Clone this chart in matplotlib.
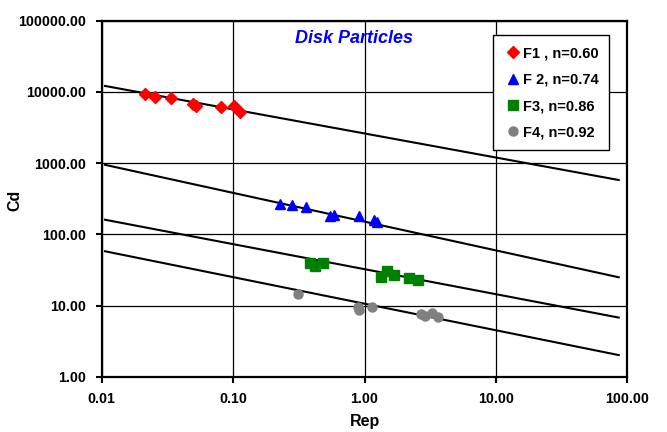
import numpy as np
import matplotlib
matplotlib.use('Agg')
import matplotlib.pyplot as plt
from matplotlib.ticker import FixedLocator, FormatStrFormatter, NullLocator

plt.rcParams['font.family'] = ['Liberation Sans', 'DejaVu Sans']

# Measured points (Rep, Cd) for each fraction
f1_rep = [0.0214, 0.0255, 0.0337, 0.0497, 0.0519, 0.0805, 0.102, 0.113]
f1_cd = [9370, 8430, 8160, 6780, 6400, 6220, 6420, 5280]

f2_rep = [0.2275, 0.279, 0.359, 0.546, 0.586, 0.908, 1.18, 1.245]
f2_cd = [268, 259, 241, 182, 188, 182, 160, 150]

f3_rep = [0.385, 0.42, 0.485, 1.33, 1.475, 1.685, 2.19, 2.57]
f3_cd = [39.9, 35.9, 39.1, 24.9, 30.5, 26.8, 24.6, 22.8]

f4_rep = [0.31, 0.89, 0.90, 1.15, 2.68, 2.89, 3.24, 3.65]
f4_cd = [14.5, 9.5, 8.6, 9.4, 7.65, 7.16, 7.82, 6.87]

labels = ['F1 , n=0.60', 'F 2, n=0.74', 'F3, n=0.86', 'F4, n=0.92']

# Trend lines Cd = a * Rep^(-b)
line_a = [2610, 150.7, 32.4, 10.6]
line_b = [0.338, 0.404, 0.3515, 0.373]
line_rep_range = [0.0106, 86]

x_ticks = [0.01, 0.1, 1, 10, 100]
y_ticks = [1, 10, 100, 1000, 10000, 100000]

fig = plt.figure(figsize=(6.67, 4.32), dpi=100)
ax = fig.add_axes([0.1525, 0.128, 0.788, 0.824])
ax.set_xscale('log')
ax.set_yscale('log')
ax.set_xlim(0.01, 100)
ax.set_ylim(1, 100000)

# Grid lines at every decade
ax.grid(True, which='major', color='black', linewidth=0.9)
ax.set_axisbelow(True)

# Fitted lines
rep_line = np.logspace(np.log10(line_rep_range[0]), np.log10(line_rep_range[1]), 50)
for a, b in zip(line_a, line_b):
    ax.plot(rep_line, a * rep_line ** (-b), color='black', linewidth=1.5, zorder=2)

# Data points
ax.plot(f1_rep, f1_cd, 'D', color='#ff0000', markersize=6.5, linestyle='none', label=labels[0], zorder=3)
ax.plot(f2_rep, f2_cd, '^', color='#0000ff', markersize=7.5, linestyle='none', label=labels[1], zorder=3)
ax.plot(f3_rep, f3_cd, 's', color='#008000', markersize=7, linestyle='none', label=labels[2], zorder=3)
ax.plot(f4_rep, f4_cd, 'o', color='#808080', markersize=6.5, linestyle='none', label=labels[3], zorder=3)

# Ticks: only decades, two decimals
ax.xaxis.set_major_locator(FixedLocator(x_ticks))
ax.yaxis.set_major_locator(FixedLocator(y_ticks))
ax.xaxis.set_minor_locator(NullLocator())
ax.yaxis.set_minor_locator(NullLocator())
ax.xaxis.set_major_formatter(FormatStrFormatter('%.2f'))
ax.yaxis.set_major_formatter(FormatStrFormatter('%.2f'))
ax.tick_params(axis='both', which='major', direction='out', length=4, width=1.5,
               labelsize=10.3, pad=7)
for lbl in ax.get_xticklabels() + ax.get_yticklabels():
    lbl.set_fontweight('bold')

for side in ['top', 'bottom', 'left', 'right']:
    ax.spines[side].set_linewidth(1.6)
    ax.spines[side].set_color('black')

ax.set_xlabel('Rep', fontsize=11.5, fontweight='bold', labelpad=6)
ax.set_ylabel('Cd', fontsize=11.5, fontweight='bold')
ax.yaxis.set_label_coords(-0.151, 0.496)

ax.text(0.48, 0.951, 'Disk Particles', transform=ax.transAxes, ha='center', va='center',
        color='#0000ff', fontsize=13, fontweight='bold', fontstyle='italic')

leg = ax.legend(loc='upper right', bbox_to_anchor=(0.966, 0.959), fancybox=False,
                edgecolor='black', framealpha=1, prop={'weight': 'bold', 'size': 10.5},
                handletextpad=0.1, handlelength=1.2, labelspacing=0.85, borderpad=0.75,
                borderaxespad=0)
leg.get_frame().set_linewidth(1.0)

fig.savefig('out.png', dpi=100)
